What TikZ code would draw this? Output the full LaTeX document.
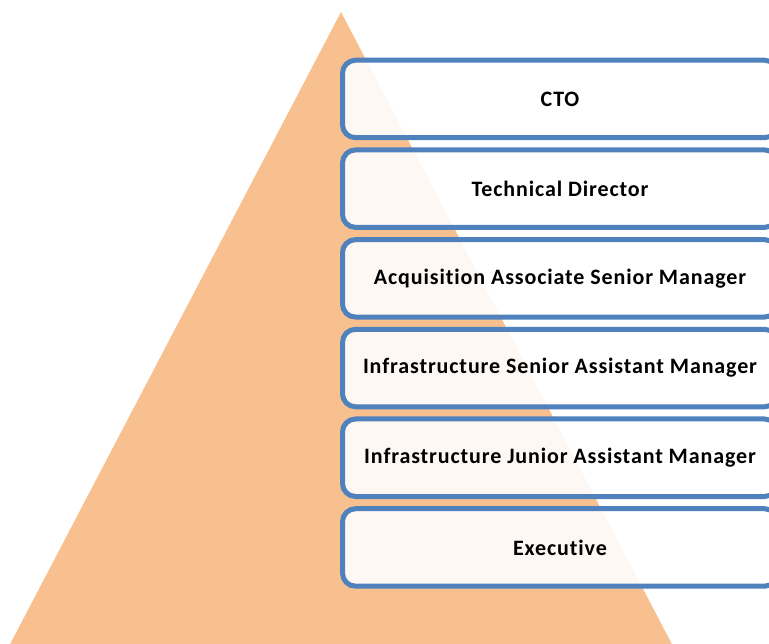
\documentclass[tikz,border=0pt]{standalone}
\usepackage{fontspec}
\setmainfont{Carlito}[Ligatures=NoCommon]
\usetikzlibrary{positioning}

\definecolor{peach}{RGB}{249,192,143}
\definecolor{frameblue}{RGB}{79,129,189}

\begin{document}
\begin{tikzpicture}
    [x=1pt, y=-1pt,
    % STYLES
    % The post style is used to draw each job title box
    post/.style={rectangle, draw=frameblue, line width=5pt, rounded corners=13pt, fill=white, fill opacity=0.9, text opacity=1, inner sep=0pt, minimum width=435pt, minimum height=77.5pt, node distance=7.2pt, font=\bfseries\fontsize{22}{26}\selectfont\addfontfeatures{LetterSpace=4}},
    % The pyramid style is used to fill the triangle behind the boxes
    pyramid/.style={fill=peach}]

    \useasboundingbox (0,0) rectangle (769,644);
    \clip (0,0) rectangle (769,644);

    % Draw pyramid
    \fill[pyramid] (341,12) -- (675,650) -- (7,650) -- cycle;

    % Draw posts
    \node [post, anchor=north west] (cto) at (340,57.7) {CTO};
    \node [post, below=of cto] (director) {Technical Director};
    \node [post, below=of director] (acquisition) {Acquisition Associate Senior Manager};
    \node [post, below=of acquisition] (senior) {Infrastructure Senior Assistant Manager};
    \node [post, below=of senior] (junior) {Infrastructure Junior Assistant Manager};
    \node [post, below=of junior] (executive) {Executive};
\end{tikzpicture}
\end{document}
